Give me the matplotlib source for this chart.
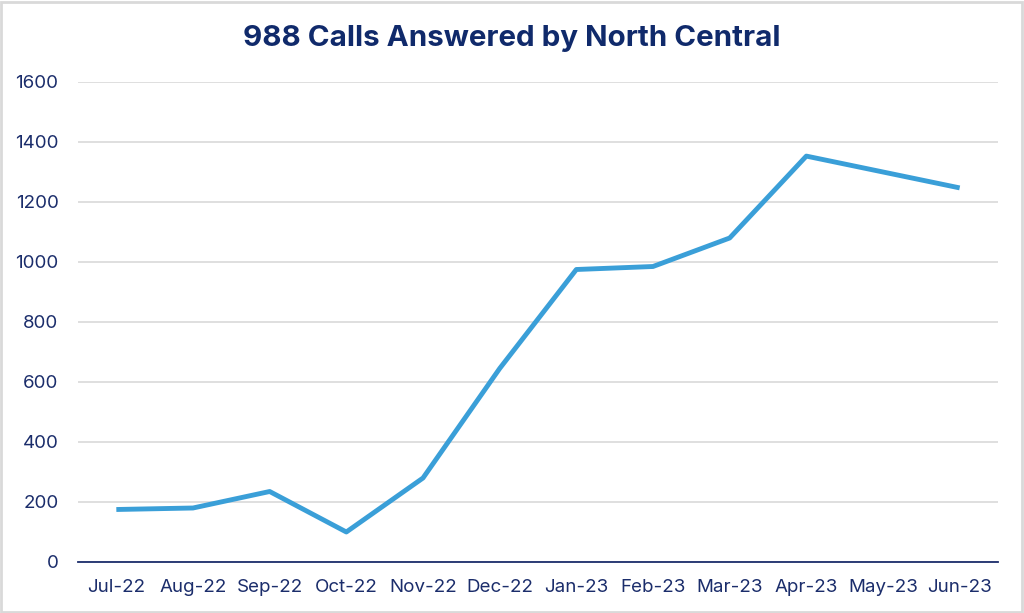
import matplotlib
matplotlib.use("Agg")
import matplotlib.pyplot as plt
from matplotlib.patches import Rectangle

months = ["Jul-22", "Aug-22", "Sep-22", "Oct-22", "Nov-22", "Dec-22",
          "Jan-23", "Feb-23", "Mar-23", "Apr-23", "May-23", "Jun-23"]
calls = [175, 180, 235, 100, 280, 645, 975, 985, 1080, 1353, 1300, 1247]
yticks = [0, 200, 400, 600, 800, 1000, 1200, 1400, 1600]

plt.rcParams['font.family'] = ['Inter', 'DejaVu Sans']
navy = "#1b2d6b"

W, H = 1024, 613
fig = plt.figure(figsize=(W/100, H/100), dpi=100)
fig.patches.append(Rectangle((0.001, 0.001), 0.997, 0.996, transform=fig.transFigure,
                             fill=False, edgecolor="#d9d9d9", linewidth=2))

ax = fig.add_axes([78/W, (H-562)/H, (998-78)/W, (562-82)/H])
x = list(range(len(months)))
ax.plot(x, calls, color="#3a9fd8", linewidth=3.5, solid_capstyle="butt", solid_joinstyle="round")
ax.set_xlim(-0.5, len(months)-0.5)
ax.set_ylim(0, 1600)
ax.set_yticks(yticks)
ax.set_yticklabels([str(v) for v in yticks])
ax.set_xticks(x)
ax.set_xticklabels(months)
ax.grid(axis="y", color="#d9d9d9", linewidth=1.2)
ax.set_axisbelow(True)
for s in ["top", "right", "left"]:
    ax.spines[s].set_visible(False)
ax.spines["bottom"].set_color(navy)
ax.spines["bottom"].set_linewidth(1.3)
ax.spines["bottom"].set_zorder(3)
ax.tick_params(axis="both", length=0, labelsize=13.5, labelcolor=navy)
ax.tick_params(axis="y", pad=14)
ax.tick_params(axis="x", pad=12)

fig.text(512/W, 1-38/H, "988 Calls Answered by North Central", ha="center", va="center",
         fontsize=21.3, fontweight="bold", color="#102a6b")

fig.savefig("out.png", dpi=100)
